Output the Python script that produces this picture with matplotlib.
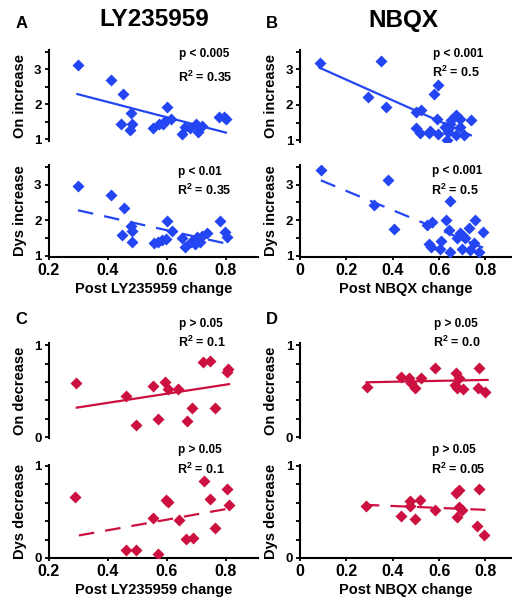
import numpy as np
import matplotlib
matplotlib.use("Agg")
import matplotlib.pyplot as plt

plt.rcParams['font.family'] = ['Liberation Sans', 'DejaVu Sans']
plt.rcParams['font.weight'] = 'bold'
plt.rcParams['mathtext.fontset'] = 'custom'
plt.rcParams['mathtext.rm'] = 'Liberation Sans:bold'
plt.rcParams['mathtext.bf'] = 'Liberation Sans:bold'
plt.rcParams['mathtext.default'] = 'bf'

BLUE = '#2446f2'
RED = '#cc1040'

# ---- data ----
# A: LY235959, On increase
ly_on_x = [0.299, 0.412, 0.454, 0.481, 0.447, 0.482, 0.475, 0.555, 0.601, 0.573, 0.587,
           0.596, 0.615, 0.654, 0.662, 0.679, 0.699, 0.707, 0.720, 0.779, 0.796, 0.801]
ly_on_y = [3.11, 2.69, 2.28, 1.76, 1.43, 1.45, 1.27, 1.31, 1.91, 1.45, 1.44,
           1.53, 1.58, 1.15, 1.36, 1.31, 1.45, 1.20, 1.38, 1.63, 1.64, 1.57]
ly_on_fit = ([0.298, 0.801], [2.29, 1.19])

# A: LY235959, Dys increase
ly_dys_x = [0.300, 0.413, 0.456, 0.478, 0.482, 0.448, 0.483, 0.558, 0.572, 0.586, 0.597, 0.602,
            0.617, 0.652, 0.663, 0.683, 0.697, 0.703, 0.713, 0.721, 0.736, 0.780, 0.797, 0.806]
ly_dys_y = [2.96, 2.72, 2.35, 1.84, 1.69, 1.58, 1.40, 1.35, 1.40, 1.45, 1.47, 1.99,
            1.71, 1.49, 1.26, 1.40, 1.33, 1.52, 1.40, 1.56, 1.65, 1.98, 1.68, 1.54]
ly_dys_fit = ([0.30, 0.80], [2.28, 1.35])

# B: NBQX, On increase
nb_on_x = [0.087, 0.348, 0.295, 0.372, 0.499, 0.524, 0.576, 0.597, 0.501, 0.517, 0.555, 0.562, 0.594,
           0.593, 0.625, 0.639, 0.646, 0.639, 0.653, 0.636, 0.671, 0.688, 0.674, 0.692, 0.709, 0.737]
nb_on_y = [3.19, 3.23, 2.22, 1.94, 1.80, 1.86, 2.30, 2.55, 1.35, 1.21, 1.21, 1.26, 1.17,
           1.61, 1.38, 1.33, 1.47, 1.23, 1.56, 1.00, 1.70, 1.61, 1.14, 1.36, 1.14, 1.58]
nb_on_fit = ([0.084, 0.737], [3.05, 1.14])

# B: NBQX, Dys increase
nb_dys_x = [0.090, 0.381, 0.319, 0.406, 0.649, 0.547, 0.571, 0.629, 0.755, 0.643, 0.731, 0.690, 0.697,
            0.675, 0.712, 0.790, 0.556, 0.566, 0.607, 0.603, 0.649, 0.697, 0.751, 0.734, 0.770]
nb_dys_y = [3.42, 3.14, 2.42, 1.76, 2.53, 1.86, 1.95, 2.00, 2.00, 1.72, 1.79, 1.65, 1.58,
            1.51, 1.51, 1.67, 1.34, 1.26, 1.42, 1.19, 1.11, 1.19, 1.35, 1.17, 1.11]
nb_dys_fit = ([0.09, 0.79], [3.12, 1.23])

# C: LY235959, On decrease
ly_ond_x = [0.293, 0.462, 0.496, 0.553, 0.572, 0.595, 0.606, 0.640, 0.669, 0.688, 0.725, 0.748,
            0.764, 0.805, 0.810]
ly_ond_y = [0.584, 0.445, 0.128, 0.558, 0.193, 0.602, 0.522, 0.529, 0.172, 0.321, 0.821, 0.832,
            0.321, 0.704, 0.737]
ly_ond_fit = ([0.296, 0.812], [0.321, 0.577])

# C: LY235959, Dys decrease
ly_dysd_x = [0.290, 0.462, 0.497, 0.570, 0.553, 0.597, 0.606, 0.642, 0.667, 0.690, 0.726, 0.749,
             0.764, 0.806, 0.813]
ly_dysd_y = [0.667, 0.084, 0.084, 0.048, 0.429, 0.634, 0.604, 0.414, 0.201, 0.220, 0.835, 0.641,
             0.322, 0.744, 0.575]
ly_dysd_fit = ([0.303, 0.813], [0.245, 0.538])

# D: NBQX, On decrease
nb_ond_x = [0.287, 0.437, 0.472, 0.479, 0.496, 0.520, 0.582, 0.672, 0.687, 0.668, 0.678, 0.704,
            0.773, 0.767, 0.796]
nb_ond_y = [0.542, 0.659, 0.648, 0.586, 0.538, 0.648, 0.758, 0.696, 0.648, 0.568, 0.538, 0.524,
            0.751, 0.531, 0.495]
nb_ond_fit = ([0.287, 0.809], [0.597, 0.623])

# D: NBQX, Dys decrease
nb_dysd_x = [0.285, 0.435, 0.476, 0.476, 0.496, 0.518, 0.584, 0.672, 0.687, 0.675, 0.687, 0.700,
             0.774, 0.763, 0.795]
nb_dysd_y = [0.570, 0.451, 0.621, 0.560, 0.426, 0.632, 0.516, 0.704, 0.740, 0.444, 0.552, 0.523,
             0.747, 0.350, 0.253]
nb_dysd_fit = ([0.275, 0.80], [0.578, 0.523])

W, H = 523, 606
fig = plt.figure(figsize=(W / 100, H / 100), dpi=100)


def box(l, t, r, b):
    return [l / W, 1 - b / H, (r - l) / W, (b - t) / H]


def ftext(x, y, s, **kw):
    fig.text(x / W, 1 - y / H, s, **kw)


def panel(rect, x, y, fit, color, dashed, ylabel, ylim, yticks, ylabels,
          xlim=None, xticks=None, xticklabels=None, xlabel=None):
    ax = fig.add_axes(box(*rect))
    ax.plot(x, y, 'D', ms=5.8, color=color, mec='none', zorder=3)
    if dashed:
        ax.plot(fit[0], fit[1], color=color, lw=1.6, dashes=(7, 5), zorder=2)
    else:
        ax.plot(fit[0], fit[1], color=color, lw=1.6, zorder=2)
    ax.set_ylim(*ylim)
    ax.set_xlim(*xlim)
    ax.set_yticks(yticks)
    ax.set_yticklabels(ylabels, fontsize=9.5, fontweight='bold')
    for s in ['top', 'right']:
        ax.spines[s].set_visible(False)
    ax.spines['left'].set_linewidth(1.5)
    ax.tick_params(axis='y', direction='out', length=3, width=1.3, pad=2)
    if xlabel is None:
        ax.spines['bottom'].set_visible(False)
        ax.set_xticks([])
    else:
        ax.spines['bottom'].set_linewidth(1.5)
        ax.set_xticks(xticks)
        ax.set_xticklabels(xticklabels, fontsize=11.5, fontweight='bold')
        ax.tick_params(axis='x', direction='out', length=2, width=1.3, pad=2)
        ax.set_xlabel(xlabel, fontsize=10.5, fontweight='bold', labelpad=3)
    ax.set_ylabel(ylabel, fontsize=10.5, fontweight='bold')
    ax.yaxis.set_label_coords(-0.105, 0.5)
    ax.patch.set_alpha(0)
    return ax


inc_ticks = [1, 1.5, 2, 2.5, 3, 3.5]
inc_labels = ['1', '', '2', '', '3', '']
dec_ticks = [0, 0.2, 0.4, 0.6, 0.8, 1.0]
dec_labels = ['0', '', '', '', '', '1']
ly_xlim = (0.2, 0.91)
nb_xlim = (0, 0.91)
ly_xt = [0.2, 0.4, 0.6, 0.8]
nb_xt = [0, 0.2, 0.4, 0.6, 0.8]

panel((48.5, 50, 258, 141), ly_on_x, ly_on_y, ly_on_fit, BLUE, False, 'On increase',
      (0.95, 3.55), inc_ticks, inc_labels, ly_xlim)
panel((48.5, 165, 258, 257), ly_dys_x, ly_dys_y, ly_dys_fit, BLUE, True, 'Dys increase',
      (0.97, 3.55), inc_ticks, inc_labels, ly_xlim, ly_xt, ['0.2', '0.4', '0.6', '0.8'],
      'Post LY235959 change')
panel((300, 50, 511, 142), nb_on_x, nb_on_y, nb_on_fit, BLUE, False, 'On increase',
      (0.95, 3.55), inc_ticks, inc_labels, nb_xlim)
panel((300, 165, 511, 257), nb_dys_x, nb_dys_y, nb_dys_fit, BLUE, True, 'Dys increase',
      (0.97, 3.55), inc_ticks, inc_labels, nb_xlim, nb_xt, ['0', '0.2', '0.4', '0.6', '0.8'],
      'Post NBQX change')

panel((48.5, 343, 258, 438), ly_ond_x, ly_ond_y, ly_ond_fit, RED, False, 'On decrease',
      (-0.01, 1.025), dec_ticks, dec_labels, ly_xlim)
panel((48.5, 465, 258, 558), ly_dysd_x, ly_dysd_y, ly_dysd_fit, RED, True, 'Dys decrease',
      (0, 1.01), dec_ticks, dec_labels, ly_xlim, ly_xt, ['0.2', '0.4', '0.6', '0.8'],
      'Post LY235959 change')
panel((300, 343, 511, 438), nb_ond_x, nb_ond_y, nb_ond_fit, RED, False, 'On decrease',
      (-0.01, 1.025), dec_ticks, dec_labels, nb_xlim)
panel((300, 465, 511, 558), nb_dysd_x, nb_dysd_y, nb_dysd_fit, RED, True, 'Dys decrease',
      (0, 1.01), dec_ticks, dec_labels, nb_xlim, nb_xt, ['0', '0.2', '0.4', '0.6', '0.8'],
      'Post NBQX change')

# titles and panel letters
ftext(154, 20, 'LY235959', fontsize=17.5, fontweight='bold', ha='center', va='center')
ftext(403, 20, 'NBQX', fontsize=17.5, fontweight='bold', ha='center', va='center')
for letter, lx, ly in [('A', 22, 23), ('B', 272, 23), ('C', 21, 319), ('D', 272, 319)]:
    ftext(lx, ly, letter, fontsize=12, fontweight='bold', ha='center', va='center')

# statistics
stats = [
    (179, 57, 82, 'p < 0.005', '0.35'),
    (178, 175, 195, 'p < 0.01', '0.35'),
    (433, 57, 77, 'p < 0.001', '0.5'),
    (432, 174, 195, 'p < 0.001', '0.5'),
    (179, 327, 347, 'p > 0.05', '0.1'),
    (178, 453, 474, 'p > 0.05', '0.1'),
    (434, 327, 347, 'p > 0.05', '0.0'),
    (432, 453, 474, 'p > 0.05', '0.05'),
]
for sx, py, ry, ptxt, r2 in stats:
    ftext(sx, py, ptxt, fontsize=8.5, fontweight='bold', ha='left', va='baseline')
    ftext(sx - 1, ry, 'R$^{2}$ = ' + r2, fontsize=9, fontweight='bold', ha='left', va='baseline')

fig.savefig('out.png', dpi=100)
